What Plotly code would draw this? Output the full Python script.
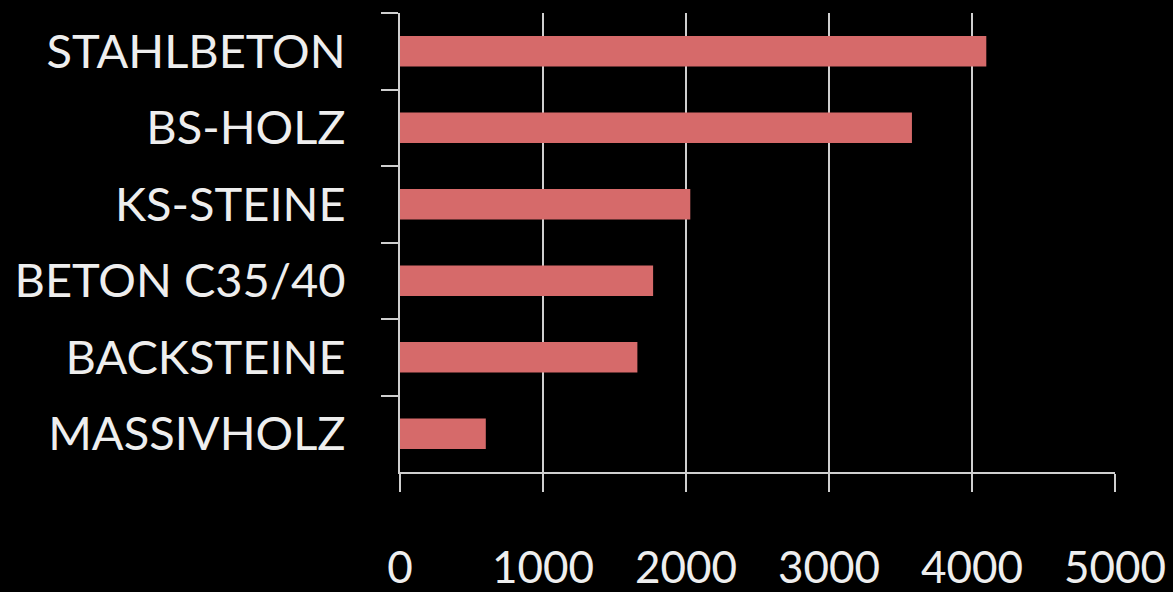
import plotly.graph_objects as go

categories = ["STAHLBETON", "BS-HOLZ", "KS-STEINE", "BETON C35/40", "BACKSTEINE", "MASSIVHOLZ"]
values = [4100, 3580, 2030, 1770, 1660, 600]
x_ticks = [0, 1000, 2000, 3000, 4000, 5000]

line_col = "#cfcfcf"
fig = go.Figure(go.Bar(
    x=values, y=categories, orientation="h",
    marker=dict(color="#d66a6a", line=dict(width=0)),
    width=0.4,
))
fig.update_layout(
    width=1173, height=592,
    paper_bgcolor="black", plot_bgcolor="black",
    margin=dict(l=400, r=58, t=13, b=120, autoexpand=False),
    font=dict(family="Lato", color="#eeeeee", size=46),
    showlegend=False,
    bargap=0.6,
)
fig.update_xaxes(
    range=[0, 5000], tickvals=x_ticks, ticktext=[str(v) for v in x_ticks],
    showgrid=True, gridcolor=line_col, gridwidth=2,
    showline=True, linecolor=line_col, linewidth=2,
    ticks="outside", ticklen=18, tickwidth=2, tickcolor=line_col,
    ticklabelstandoff=38, zeroline=False, automargin=False,
    tickfont=dict(size=44, family="Lato", color="#eeeeee"),
)
fig.update_yaxes(
    categoryorder="array", categoryarray=categories, autorange="reversed",
    showline=True, linecolor=line_col, linewidth=2,
    ticks="outside", ticklen=17, tickwidth=2, tickcolor=line_col,
    tickson="boundaries", showgrid=False, automargin=False,
    ticklabelstandoff=43,
    tickfont=dict(size=47, family="Lato", color="#eeeeee"),
)
fig.write_html(
    "out.html",
    config={"displayModeBar": False},
    post_script="document.body.style.margin='0';document.body.style.background='black';",
)
